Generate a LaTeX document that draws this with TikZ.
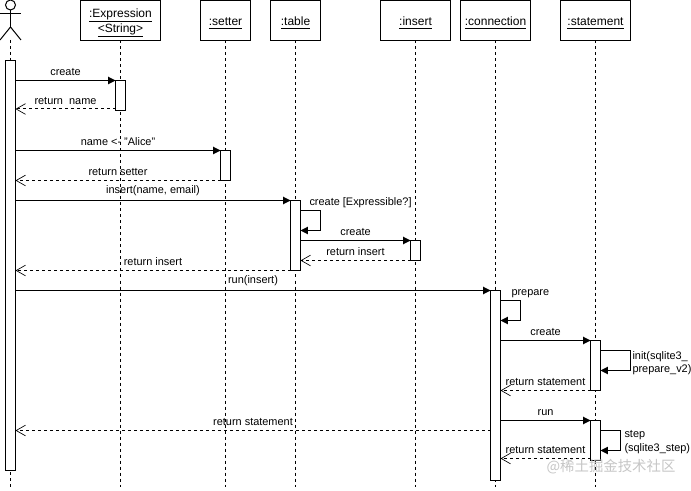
\documentclass[tikz,border=0pt]{standalone}
\usepackage{fontspec}
\setmainfont{Liberation Sans}
\newfontfamily\cjkfont{Noto Sans CJK SC}
\usetikzlibrary{arrows.meta}

\tikzset{
  objbox/.style={draw, fill=white, minimum height=40*0.75pt, inner sep=0pt, outer sep=0pt, align=center, text height=8pt, text depth=0pt, font=\fontsize{9}{10.2}\selectfont},
  lifeline/.style={dash pattern=on 2.25pt off 2.25pt},
  actbar/.style={draw, fill=white, minimum width=10*0.75pt, inner sep=0pt, outer sep=0pt, anchor=north},
  callmsg/.style={-{Triangle[length=5.5pt,width=5.5pt]}},
  retmsg/.style={dash pattern=on 2.25pt off 2.25pt, -{Straight Barb[length=7pt,width=8pt,line width=0.5pt]}},
  msglabel/.style={font=\fontsize{8.2}{10}\selectfont, inner sep=1.5pt},
  midlabel/.style={msglabel, midway, above=1.5pt}
}

\begin{document}
\begin{tikzpicture}[x=0.75pt, y=-0.75pt, line width=0.75pt]
  \useasboundingbox (0,0) rectangle (691,491);

  % 参与者
  \draw (10.5,5) circle (3.75pt);
  \draw (10.5,10) -- (10.5,27);
  \draw (0,14) -- (21,14);
  \draw (0,40) -- (10.5,27) -- (21,40);
  \coordinate (actor) at (10.5,40);
  \coordinate (lifeend) at (0,487);

  % 对象
  \node[objbox, minimum width=80*0.75pt, text height=17.7pt] (expression) at (120.5,20.5) {\underline{:Expression}\\\underline{<String>}};
  \node[objbox, minimum width=50*0.75pt] (setter) at (225.5,20.5) {\underline{:setter}};
  \node[objbox, minimum width=50*0.75pt] (table) at (295.5,20.5) {\underline{:table}};
  \node[objbox, minimum width=70*0.75pt] (insert) at (415.5,20.5) {\underline{:insert}};
  \node[objbox, minimum width=70*0.75pt] (connection) at (495.5,20.5) {\underline{:connection}};
  \node[objbox, minimum width=70*0.75pt] (statement) at (595.5,20.5) {\underline{:statement}};

  % 生命线
  \draw[lifeline] (actor) -- (actor |- lifeend);
  \foreach \obj in {expression,setter,table,insert,connection,statement} {
    \draw[lifeline] (\obj.south) -- (\obj.south |- lifeend);
  }

  % 激活条
  \node[actbar, minimum height=410*0.75pt] (barmain) at (10.5,60.5) {};
  \node[actbar, minimum height=30*0.75pt] (barexpr) at (120.5,80.5) {};
  \node[actbar, minimum height=30*0.75pt] (barsetter) at (225.5,150.5) {};
  \node[actbar, minimum height=70*0.75pt] (bartable) at (295.5,200.5) {};
  \node[actbar, minimum height=20*0.75pt] (barinsert) at (415.5,240.5) {};
  \node[actbar, minimum height=190*0.75pt] (barconn) at (495.5,290.5) {};
  \node[actbar, minimum height=50*0.75pt] (barstmt) at (595.5,340.5) {};
  \node[actbar, minimum height=40*0.75pt] (barstep) at (595.5,420.5) {};

  \coordinate (retname) at (0,109);
  \coordinate (retmain) at (0,430.5);
  \coordinate (retstep) at (0,458.5);

  % 消息
  \draw[callmsg] (barmain.east |- barexpr.north) -- (barexpr.north west) node[midlabel] (lblcreate) {create};
  \draw[retmsg] (barexpr.west |- retname) -- (barmain.east |- retname) node[midlabel] (lblname) {return\ \ name};
  \draw[callmsg] (barmain.east |- barsetter.north) -- (barsetter.north west) node[midlabel] (lblalice) {name <- "Alice"};
  \draw[retmsg] (barsetter.south west) -- (barmain.east |- barsetter.south) node[midlabel] (lblsetter) {return setter};
  \draw[callmsg] (barmain.east |- bartable.north) -- (bartable.north west) node[midlabel] (lblinsert) {insert(name, email)};
  \draw[callmsg] (bartable.east |- barinsert.north) -- (barinsert.north west) node[midlabel] (lblcreatei) {create};
  \draw[retmsg] (barinsert.south west) -- (bartable.east |- barinsert.south) node[midlabel] (lblreti) {return insert};
  \draw[retmsg] (bartable.south west) -- (barmain.east |- bartable.south) node[midlabel] (lblretm) {return insert};
  \draw[callmsg] (barmain.east |- barconn.north) -- (barconn.north west) node[midlabel] (lblrun) {run(insert)};
  \draw[callmsg] (barconn.east |- barstmt.north) -- (barstmt.north west) node[midlabel] (lblcreates) {create};
  \draw[retmsg] (barstmt.south west) -- (barconn.east |- barstmt.south) node[midlabel] (lblrets) {return statement};
  \draw[callmsg] (barconn.east |- barstep.north) -- (barstep.north west) node[midlabel] (lblrunb) {run};
  \draw[retmsg] (barstep.west |- retstep) -- (barconn.east |- retstep) node[midlabel] (lblretb) {return statement};
  \draw[retmsg] (barconn.west |- retmain) -- (barmain.east |- retmain) node[midlabel] (lblretc) {return statement};

  % 自调用
  \draw[callmsg] (bartable.north east) ++(0,10) -- ++(20,0) -- ++(0,20) -- ++(-20,0);
  \draw[callmsg] (barconn.north east) ++(0,10) -- ++(20,0) -- ++(0,20) -- ++(-20,0);
  \draw[callmsg] (barstmt.north east) ++(0,10) -- ++(30,0) -- ++(0,20) -- ++(-30,0);
  \draw[callmsg] (barstep.north east) ++(0,10) -- ++(20,0) -- ++(0,20) -- ++(-20,0);
  \node[msglabel, anchor=west] (lblself) at (307,203) {create [Expressible?]};
  \node[msglabel, anchor=west] (lblprep) at (509,293.5) {prepare};
  \node[msglabel, anchor=west, align=left] (lblinit) at (630,363) {init(sqlite3\_\\prepare\_v2)};
  \node[msglabel, anchor=west, align=left] (lblstep) at (622,442) {step\\(sqlite3\_step)};

  % 水印
  \node[text=gray!45, font=\cjkfont\fontsize{10.8}{13}\selectfont, inner sep=0pt] (mark) at (611,467) {@稀土掘金技术社区};
\end{tikzpicture}
\end{document}
